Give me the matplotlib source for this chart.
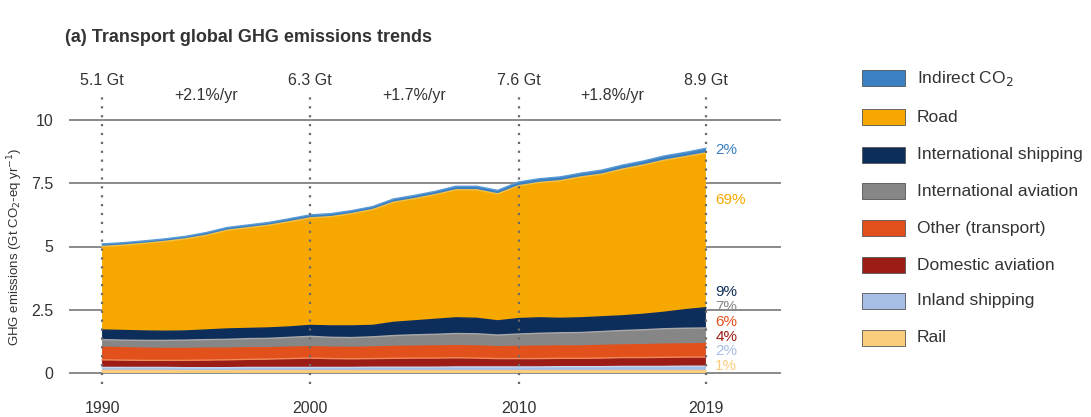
import matplotlib
matplotlib.use("Agg")
import matplotlib.pyplot as plt
from matplotlib.patches import Rectangle
import numpy as np

plt.rcParams['font.family'] = ['Liberation Sans', 'DejaVu Sans']

years = list(range(1990, 2020))
rail = [0.10,0.10,0.10,0.10,0.09,0.09,0.09,0.09,0.09,0.09,0.09,0.09,0.09,0.09,0.09,
        0.09,0.09,0.09,0.09,0.09,0.09,0.09,0.09,0.09,0.09,0.09,0.09,0.09,0.09,0.09]
inland_shipping = [0.12,0.12,0.12,0.12,0.12,0.12,0.12,0.13,0.13,0.13,0.13,0.13,0.13,0.14,0.14,
                   0.14,0.14,0.15,0.15,0.15,0.15,0.15,0.16,0.16,0.16,0.17,0.17,0.17,0.18,0.18]
domestic_aviation = [0.30,0.29,0.28,0.28,0.29,0.30,0.31,0.32,0.33,0.35,0.37,0.35,0.34,0.34,0.35,
                     0.36,0.36,0.36,0.35,0.33,0.33,0.33,0.33,0.33,0.34,0.35,0.35,0.36,0.36,0.36]
other_transport = [0.50,0.49,0.48,0.47,0.47,0.47,0.46,0.46,0.45,0.45,0.45,0.45,0.45,0.46,0.47,
                   0.47,0.48,0.48,0.48,0.47,0.48,0.49,0.49,0.49,0.50,0.50,0.51,0.52,0.52,0.53]
intl_aviation = [0.30,0.30,0.31,0.32,0.33,0.34,0.35,0.36,0.37,0.39,0.41,0.39,0.39,0.40,0.43,
                 0.45,0.46,0.48,0.48,0.46,0.49,0.51,0.52,0.53,0.55,0.57,0.59,0.61,0.62,0.62]
intl_shipping = [0.38,0.38,0.37,0.36,0.36,0.38,0.41,0.40,0.41,0.41,0.43,0.45,0.46,0.45,0.52,
                 0.55,0.59,0.62,0.61,0.56,0.61,0.61,0.57,0.58,0.58,0.58,0.61,0.65,0.73,0.80]
road = [3.30,3.37,3.46,3.55,3.64,3.74,3.90,3.98,4.06,4.16,4.25,4.32,4.44,4.58,4.75,
        4.83,4.93,5.06,5.08,5.02,5.25,5.35,5.44,5.57,5.64,5.80,5.90,6.01,6.05,6.12]
indirect_co2 = [0.10,0.10,0.10,0.10,0.10,0.11,0.11,0.11,0.11,0.12,0.12,0.12,0.12,0.12,0.13,
                0.13,0.13,0.14,0.14,0.14,0.15,0.15,0.15,0.15,0.16,0.16,0.16,0.17,0.17,0.18]

layers = [rail, inland_shipping, domestic_aviation, other_transport,
          intl_aviation, intl_shipping, road, indirect_co2]
colors = ['#f9cd7c', '#a7bfe6', '#9b1d15', '#e2501c', '#868686', '#0d2d5a', '#f7a800', '#3b80c2']
edge_colors = ['#f9cd7c', '#c9d6ef', '#f08a5a', '#e2501c', '#a9a9a9', '#0d2d5a', '#f7c040', '#5a9ad6']

legend_labels = ['Indirect CO$_2$', 'Road', 'International shipping', 'International aviation',
                 'Other (transport)', 'Domestic aviation', 'Inland shipping', 'Rail']
legend_colors = ['#3b80c2', '#f7a800', '#0d2d5a', '#868686', '#e2501c', '#9b1d15', '#a7bfe6', '#f9cd7c']

share_labels = ['2%', '69%', '9%', '7%', '6%', '4%', '2%', '1%']
share_colors = ['#3b80c2', '#f7a800', '#0d2d5a', '#868686', '#e2501c', '#9b1d15', '#a7bfe6', '#f9cd7c']
share_y = [8.81, 6.84, 3.2, 2.6, 2.02, 1.44, 0.87, 0.28]

milestone_years = [1990, 2000, 2010, 2019]
milestone_labels = ['5.1 Gt', '6.3 Gt', '7.6 Gt', '8.9 Gt']
rate_x = [1995, 2005, 2014.5]
rate_labels = ['+2.1%/yr', '+1.7%/yr', '+1.8%/yr']

W, H = 1091, 417
fig = plt.figure(figsize=(W/100, H/100), dpi=100)
ax = fig.add_axes([70/W, (H-373)/H, (780-70)/W, (373-120)/H])
ax.set_xlim(1990 - 32/20.8, 2019 + 74/20.8)
ax.set_ylim(0, 10)

for yv in [0, 2.5, 5, 7.5, 10]:
    ax.axhline(yv, color='#8a8a8a', lw=1.4, zorder=1, clip_on=False)

ys = np.vstack(layers)
ax.stackplot(years, ys, colors=colors, zorder=2, linewidth=0)
cum = np.cumsum(ys, axis=0)
for i in range(len(layers)):
    ax.plot(years, cum[i], color=edge_colors[i], lw=1.0, zorder=3)

for yr in milestone_years:
    ax.plot([yr, yr], [-0.45, 10.9], color='#6a6a6a', lw=1.6, ls=(0, (1, 3)),
            zorder=4, clip_on=False)

for yr, lab in zip(milestone_years, milestone_labels):
    ax.text(yr, 11.55, lab, ha='center', va='center', fontsize=11.5, color='#333333', clip_on=False)
for xr, lab in zip(rate_x, rate_labels):
    ax.text(xr, 10.98, lab, ha='center', va='center', fontsize=11.5, color='#333333', clip_on=False)

for lab, c, yv in zip(share_labels, share_colors, share_y):
    ax.text(2019.45, yv, lab, ha='left', va='center', fontsize=11, color=c, clip_on=False)

ax.set_yticks([0, 2.5, 5, 7.5, 10])
ax.set_yticklabels(['0', '2.5', '5', '7.5', '10'])
ax.set_xticks(milestone_years)
ax.set_xticklabels([str(y) for y in milestone_years])
ax.tick_params(axis='both', length=0, labelsize=11.5, colors='#333333')
ax.tick_params(axis='y', pad=12)
ax.tick_params(axis='x', pad=20)
for s in ax.spines.values():
    s.set_visible(False)
ax.set_ylabel('GHG emissions (Gt CO$_2$-eq yr$^{-1}$)', fontsize=9.5, color='#333333')
ax.yaxis.set_label_coords(-0.063, 0.5)

fig.text(65/W, (H-38)/H, '(a) Transport global GHG emissions trends', fontsize=13,
         fontweight='bold', color='#333333', ha='left', va='center')

row_y = [78, 117, 155, 191, 228, 265, 301, 338]
for lab, c, yp in zip(legend_labels, legend_colors, row_y):
    fig.add_artist(Rectangle((862/W, (H-yp-8)/H), 43/W, 16/H, transform=fig.transFigure,
                             facecolor=c, edgecolor='#555555', lw=0.6))
    fig.text(917/W, (H-yp)/H, lab, fontsize=12.5, color='#333333', ha='left', va='center')

fig.savefig('out.png', dpi=100)
